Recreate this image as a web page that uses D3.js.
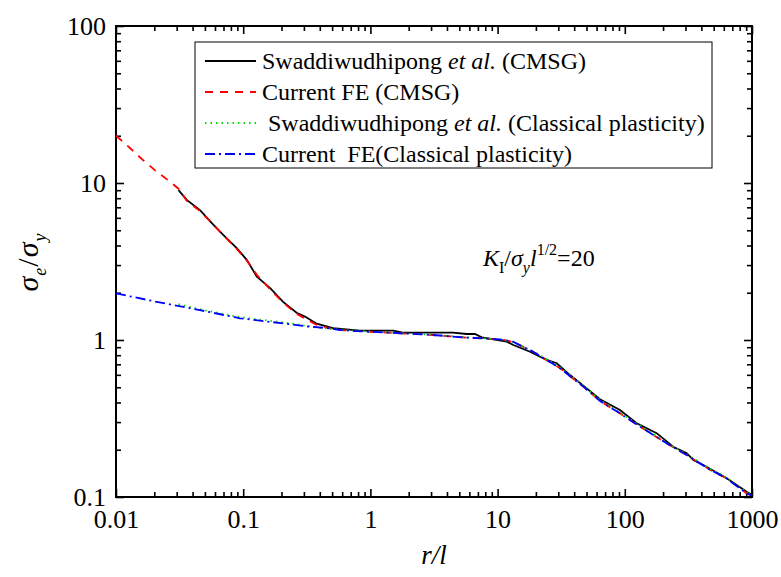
<!DOCTYPE html>
<html><head><meta charset="utf-8">
<script src="https://cdn.jsdelivr.net/npm/d3@7"></script>
<style>
body{margin:0;background:#fff;}
svg{display:block;}
</style></head>
<body>
<svg id="chart" width="781" height="577"></svg>
<script>
// ---- data ----
const xTicks = [0.01, 0.1, 1, 10, 100, 1000];
const xTickLabels = ["0.01", "0.1", "1", "10", "100", "1000"];
const yTicks = [0.1, 1, 10, 100];
const yTickLabels = ["0.1", "1", "10", "100"];

const refCmsgX = [0.031, 0.036, 0.046, 0.055, 0.069, 0.089, 0.107, 0.128, 0.163, 0.206, 0.263, 0.306, 0.378, 0.508, 0.828, 1.51, 1.80, 3.1, 4.46, 5.71, 6.64, 7.5, 11.8, 13.3, 18.0, 24.3, 29.2, 37.1, 50.2, 63.8, 91.6, 124, 178, 240, 307, 346, 414, 632, 908, 1000];
const refCmsgY = [9.0, 7.8, 6.7, 5.7, 4.7, 3.85, 3.23, 2.53, 2.14, 1.75, 1.49, 1.41, 1.27, 1.19, 1.146, 1.146, 1.113, 1.113, 1.113, 1.092, 1.092, 1.04, 0.975, 0.929, 0.842, 0.746, 0.711, 0.598, 0.492, 0.419, 0.358, 0.295, 0.255, 0.209, 0.19, 0.172, 0.16, 0.1315, 0.108, 0.103];

const feCmsgX = [0.01, 0.0121, 0.0163, 0.0209, 0.0266, 0.031, 0.036, 0.046, 0.055, 0.069, 0.089, 0.107, 0.128, 0.163, 0.206, 0.263, 0.306, 0.378, 0.508, 0.577, 0.935, 1.71, 3.1, 5.71, 10.4, 13.2, 19.0, 24.3, 31.0, 47.2, 63.8, 91.6, 131.6, 213, 307, 468, 632, 908, 1000];
const feCmsgY = [20, 17.5, 14.0, 11.8, 10.2, 9.2, 7.7, 6.6, 5.7, 4.7, 3.8, 3.2, 2.6, 2.1, 1.73, 1.47, 1.37, 1.25, 1.17, 1.158, 1.13, 1.104, 1.076, 1.035, 1.01, 0.975, 0.842, 0.746, 0.66, 0.505, 0.409, 0.341, 0.281, 0.22, 0.185, 0.149, 0.1315, 0.1055, 0.102];

const refClassX = [0.031, 0.046, 0.063, 0.1, 0.183, 0.263, 0.378, 0.508, 0.935, 1.71, 3.1, 5.71, 10.4, 13.2, 19.0, 24.3, 31.0, 47.2, 63.8, 91.6, 131.6, 213, 307, 468, 632, 908, 1000];
const refClassY = [1.69, 1.57, 1.49, 1.39, 1.31, 1.26, 1.2, 1.175, 1.135, 1.105, 1.08, 1.04, 1.01, 0.97, 0.85, 0.755, 0.67, 0.51, 0.415, 0.345, 0.285, 0.222, 0.187, 0.151, 0.133, 0.107, 0.103];

const feClassX = [0.01, 0.0209, 0.0457, 0.0944, 0.1725, 0.335, 0.481, 0.577, 0.935, 1.71, 3.1, 5.71, 10.4, 13.2, 19.0, 24.3, 31.0, 47.2, 63.8, 91.6, 131.6, 213, 307, 468, 632, 908, 1000];
const feClassY = [1.98, 1.75, 1.55, 1.375, 1.297, 1.216, 1.187, 1.158, 1.13, 1.104, 1.076, 1.035, 1.01, 0.975, 0.842, 0.746, 0.66, 0.505, 0.409, 0.341, 0.281, 0.22, 0.185, 0.149, 0.1315, 0.1055, 0.102];

const seriesNames = ["Swaddiwudhipong", "Current FE (CMSG)", " Swaddiwudhipong", "Current  FE(Classical plasticity)"];

// ---- pick an installed serif font ----
const svg = d3.select("#chart");
function widthOf(fam) {
  const t = svg.append("text").attr("font-size", 40).attr("font-family", fam).text("Swaddiwudhipong 0.01 mmmWWiil");
  const w = t.node().getComputedTextLength(); t.remove(); return w;
}
const monoW = widthOf("monospace");
const cands = ["Liberation Serif", "Tinos", "Times New Roman", "DejaVu Serif", "Noto Serif"];
let FONT = "serif";
for (const c of cands) { if (Math.abs(widthOf(`"${c}", monospace`) - monoW) > 0.5) { FONT = `"${c}"`; break; } }
svg.style("font-family", FONT);

// ---- layout ----
const L = 116, R = 752, T = 26, B = 497;
const x = d3.scaleLog().domain([0.01, 1000]).range([L, R]);
const y = d3.scaleLog().domain([0.1, 100]).range([B, T]);

const minorX = [];
for (let d = 0.01; d < 1000; d *= 10) for (let k = 2; k <= 9; k++) minorX.push(+(d * k).toPrecision(3));
const minorY = [];
for (let d = 0.1; d < 100; d *= 10) for (let k = 2; k <= 9; k++) minorY.push(+(d * k).toPrecision(3));

const tickFont = 26;
function styleAxis(g) {
  g.attr("font-family", FONT);
  g.select(".domain").remove();
  g.selectAll(".tick line").attr("stroke", "#000").attr("stroke-width", 1.6);
  g.selectAll("text").attr("font-size", tickFont).attr("fill", "#000");
}
svg.append("g").attr("transform", `translate(0,${B})`)
  .call(d3.axisBottom(x).tickValues(xTicks).tickSize(-8).tickPadding(13).tickFormat((d, i) => xTickLabels[i])).call(styleAxis);
svg.append("g").attr("transform", `translate(0,${B})`)
  .call(d3.axisBottom(x).tickValues(minorX).tickSize(-5).tickFormat("")).call(styleAxis);
svg.append("g").attr("transform", `translate(0,${T})`)
  .call(d3.axisTop(x).tickValues(xTicks).tickSize(-8).tickFormat("")).call(styleAxis);
svg.append("g").attr("transform", `translate(0,${T})`)
  .call(d3.axisTop(x).tickValues(minorX).tickSize(-5).tickFormat("")).call(styleAxis);
svg.append("g").attr("transform", `translate(${L},0)`)
  .call(d3.axisLeft(y).tickValues(yTicks).tickSize(-8).tickPadding(10).tickFormat((d, i) => yTickLabels[i])).call(styleAxis);
svg.append("g").attr("transform", `translate(${L},0)`)
  .call(d3.axisLeft(y).tickValues(minorY).tickSize(-5).tickFormat("")).call(styleAxis);
svg.append("g").attr("transform", `translate(${R},0)`)
  .call(d3.axisRight(y).tickValues(yTicks).tickSize(-8).tickFormat("")).call(styleAxis);
svg.append("g").attr("transform", `translate(${R},0)`)
  .call(d3.axisRight(y).tickValues(minorY).tickSize(-5).tickFormat("")).call(styleAxis);

svg.append("rect").attr("x", L).attr("y", T).attr("width", R - L).attr("height", B - T)
  .attr("fill", "none").attr("stroke", "#000").attr("stroke-width", 2);

// ---- curves ----
const line = d3.line().x(d => x(d[0])).y(d => y(d[1]));
const zip = (a, b) => a.map((v, i) => [v, b[i]]);
const styles = [
  {data: zip(refCmsgX, refCmsgY), color: "#000", dash: null, w: 1.8},
  {data: zip(feCmsgX, feCmsgY), color: "#ff0000", dash: "8,7", w: 1.8},
  {data: zip(refClassX, refClassY), color: "#00e000", dash: "1.5,4", w: 1.8},
  {data: zip(feClassX, feClassY), color: "#0000ff", dash: "10,4,2,4", w: 1.8}
];
const plot = svg.append("g");
styles.forEach(s => {
  plot.append("path").attr("d", line(s.data)).attr("fill", "none")
    .attr("stroke", s.color).attr("stroke-width", s.w)
    .attr("stroke-dasharray", s.dash);
});

// ---- legend ----
const lg = svg.append("g");
const legFont = 24;
const rowY = [61, 92, 123, 154];
const box = lg.append("rect").attr("x", 195).attr("y", 42).attr("height", 126)
  .attr("fill", "#fff").attr("stroke", "#000").attr("stroke-width", 1);
styles.forEach((s, i) => {
  lg.append("line").attr("x1", 205).attr("x2", 256).attr("y1", rowY[i]).attr("y2", rowY[i])
    .attr("stroke", s.color).attr("stroke-width", s.w).attr("stroke-dasharray", s.dash);
});
let maxEnd = 0;
function legText(i, parts) {
  const t = lg.append("text").attr("x", 262).attr("y", rowY[i] + 8).attr("font-size", legFont)
    .attr("fill", "#000").style("white-space", "pre");
  parts.forEach(p => t.append("tspan").text(p[0]).attr("font-style", p[1] ? "italic" : null));
  maxEnd = Math.max(maxEnd, 262 + t.node().getComputedTextLength());
}
legText(0, [[seriesNames[0] + " ", false], ["et al.", true], [" (CMSG)", false]]);
legText(1, [[seriesNames[1], false]]);
legText(2, [[seriesNames[2] + " ", false], ["et al.", true], [" (Classical plasticity)", false]]);
legText(3, [[seriesNames[3], false]]);
box.attr("width", Math.round(maxEnd + 7 - 195));

// ---- annotation ----
const ann = svg.append("text").attr("x", 483).attr("y", 266).attr("font-size", 24).attr("fill", "#000");
ann.append("tspan").text("K").attr("font-style", "italic");
ann.append("tspan").text("I").attr("font-size", 16).attr("dy", 7);
ann.append("tspan").text("/").attr("dy", -7);
ann.append("tspan").text("σ").attr("font-style", "italic");
ann.append("tspan").text("y").attr("font-style", "italic").attr("font-size", 16).attr("dy", 7);
ann.append("tspan").text("l").attr("font-style", "italic").attr("dy", -7);
ann.append("tspan").text("1/2").attr("font-size", 16).attr("dy", -11);
ann.append("tspan").text("=20").attr("dy", 11);

// ---- axis titles ----
svg.append("text").attr("x", 434).attr("y", 564).attr("text-anchor", "middle")
  .attr("font-size", 27).attr("fill", "#000").attr("font-style", "italic").text("r/l");
const yt = svg.append("text").attr("transform", "translate(38,262) rotate(-90)")
  .attr("text-anchor", "middle").attr("font-size", 30).attr("fill", "#000").attr("letter-spacing", 1);
yt.append("tspan").text("σ").attr("font-style", "italic");
yt.append("tspan").text("e").attr("font-style", "italic").attr("font-size", 18).attr("dy", 8);
yt.append("tspan").text("/").attr("dy", -8);
yt.append("tspan").text("σ").attr("font-style", "italic");
yt.append("tspan").text("y").attr("font-style", "italic").attr("font-size", 18).attr("dy", 8);
</script>
</body></html>
